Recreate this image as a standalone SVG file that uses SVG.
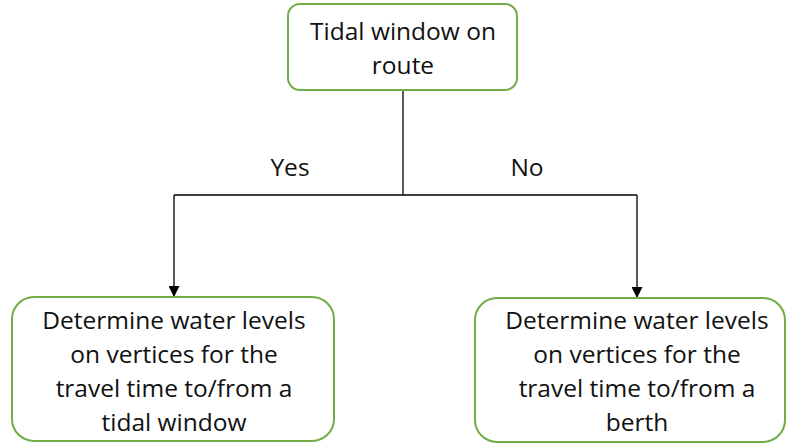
<svg xmlns="http://www.w3.org/2000/svg" width="787" height="444" viewBox="0 0 787 444">
<defs>
<style>
.box{fill:#fff;stroke:#70AD47;stroke-width:2}
.t{font-family:"Open Sans","Liberation Sans",sans-serif;font-size:24.5px;fill:#111;text-anchor:middle}
.c{fill:none;stroke:#000;stroke-width:1.3}
</style>
<marker id="ah" markerWidth="11" markerHeight="11" refX="10" refY="5" orient="auto" markerUnits="userSpaceOnUse" viewBox="0 0 10 10">
<path d="M0,0 L10,5 L0,10 Z" fill="#000"/>
</marker>
</defs>
<rect width="787" height="444" fill="#fff"/>
<g id="connectors">
<path class="c" d="M403,90 V195"/>
<path class="c" d="M174,195 H637"/>
<path class="c" d="M174,195 V297" marker-end="url(#ah)"/>
<path class="c" d="M637,195 V298" marker-end="url(#ah)"/>
<text class="t" x="290" y="176">Yes</text>
<text class="t" x="527" y="176">No</text>
</g>
<g id="top">
<rect class="box" x="288" y="4" width="229" height="86" rx="12"/>
<text class="t" x="403" y="40">Tidal window on</text>
<text class="t" x="403" y="74">route</text>
</g>
<g id="left">
<rect class="box" x="12" y="297" width="322" height="144" rx="22"/>
<text class="t" x="174" y="329">Determine water levels</text>
<text class="t" x="174" y="363">on vertices for the</text>
<text class="t" x="174" y="397">travel time to/from a</text>
<text class="t" x="174" y="431">tidal window</text>
</g>
<g id="right">
<rect class="box" x="475" y="298" width="310" height="144" rx="22"/>
<text class="t" x="637" y="329">Determine water levels</text>
<text class="t" x="637" y="363">on vertices for the</text>
<text class="t" x="637" y="397">travel time to/from a</text>
<text class="t" x="637" y="431">berth</text>
</g>
</svg>
